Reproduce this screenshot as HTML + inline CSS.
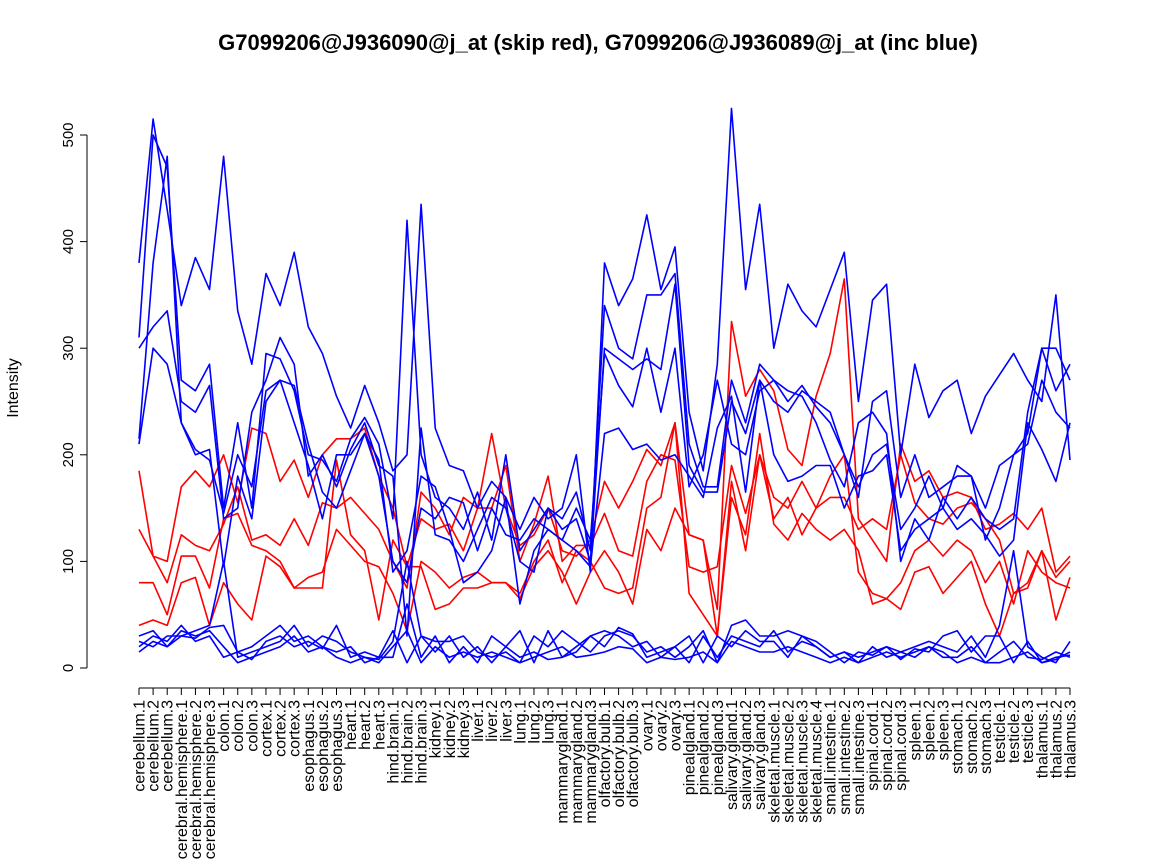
<!DOCTYPE html>
<html><head><meta charset="utf-8"><style>
body{margin:0;background:#fff;}
svg{display:block;font-family:"Liberation Sans",sans-serif;}
</style></head><body>
<svg id="s" width="1152" height="864" viewBox="0 0 1152 864" xmlns="http://www.w3.org/2000/svg">
<text x="598" y="50" text-anchor="middle" font-size="22" font-weight="bold">G7099206@J936090@j_at (skip red), G7099206@J936089@j_at (inc blue)</text>
<text transform="translate(18,388) rotate(-90)" text-anchor="middle" font-size="16">Intensity</text>
</svg>
<script>
const s=document.getElementById('s');const NS='http://www.w3.org/2000/svg';
function el(t,a,txt){const e=document.createElementNS(NS,t);for(const k in a)e.setAttribute(k,a[k]);if(txt!==undefined)e.textContent=txt;s.appendChild(e);return e;}
const Y=v=>668-v*1.066;
const labels=[];
const groups=["cerebellum","cerebral.hemisphere","colon","cortex","esophagus","heart","hind.brain","kidney","liver","lung","mammarygland","olfactory.bulb","ovary","pinealgland","salivary.gland","skeletal.muscle","small.intestine","spinal.cord","spleen","stomach","testicle","thalamus"];
groups.forEach(g=>{const n=g=="skeletal.muscle"?4:3;for(let i=1;i<=n;i++)labels.push(g+"."+i);});
const N=labels.length;
const X=i=>139+i*(1070-139)/(N-1);
el('line',{x1:87,y1:Y(0),x2:87,y2:Y(500),stroke:'#000'});
for(let v=0;v<=500;v+=100){el('line',{x1:80,y1:Y(v),x2:87,y2:Y(v),stroke:'#000'});
el('text',{transform:`translate(73,${Y(v)}) rotate(-90)`,'text-anchor':'middle','font-size':15},v);}
el('line',{x1:X(0),y1:688,x2:X(N-1),y2:688,stroke:'#000'});
labels.forEach((l,i)=>{el('line',{x1:X(i),y1:688,x2:X(i),y2:695,stroke:'#000'});
el('text',{transform:`translate(${X(i)+5.5},700) rotate(-90)`,'text-anchor':'end','font-size':16},l);});
const R=[
[185,105,100,170,185,170,200,155,225,220,175,195,160,200,215,215,225,180,150,95,140,130,135,110,150,220,150,115,125,150,110,105,120,175,150,175,205,190,230,125,120,55,325,255,280,260,205,190,255,295,365,140,120,100,210,175,185,160,165,160,130,135,145,130,150,90,105],
[130,105,80,125,115,110,135,170,120,125,115,140,115,155,150,160,145,130,100,75,165,150,125,160,150,150,190,100,135,180,100,115,115,145,110,105,175,200,195,95,90,95,190,145,200,160,150,175,150,160,160,130,140,130,200,155,140,135,150,155,140,120,70,75,110,85,100],
[80,80,50,105,105,75,140,145,115,110,100,75,85,90,130,115,100,95,70,35,100,90,75,85,90,80,80,70,100,120,80,110,100,75,70,75,150,160,230,70,50,30,160,125,220,135,120,145,130,120,130,110,60,65,55,90,95,70,85,100,60,30,70,80,110,45,85],
[40,45,40,80,85,40,80,60,45,105,95,75,75,75,195,125,110,45,120,95,95,55,60,75,75,80,80,65,95,110,90,60,90,110,90,60,130,110,150,125,120,30,175,110,200,140,160,125,150,180,200,90,70,65,80,110,120,105,120,110,80,100,60,110,90,80,75]];
const B=[
[380,515,430,340,385,355,480,335,285,370,340,390,320,295,255,225,265,230,185,200,435,225,190,185,150,175,160,130,160,140,150,200,90,380,340,365,425,355,395,240,185,285,525,355,435,300,360,335,320,355,390,250,345,360,200,285,235,260,270,220,255,275,295,270,250,350,195],
[310,500,470,270,260,285,150,230,150,295,290,260,200,195,175,215,235,210,140,420,200,160,150,130,165,120,200,110,130,150,140,165,110,340,300,290,350,350,370,210,170,170,270,230,285,270,250,265,245,230,200,160,250,260,160,200,160,170,180,180,150,190,200,220,300,260,285],
[300,320,335,250,240,265,140,150,240,270,310,285,180,200,170,205,230,190,180,30,225,125,120,100,130,160,150,100,90,150,130,140,100,300,290,280,290,280,360,190,165,165,250,220,270,250,240,260,250,240,200,170,200,210,130,150,180,150,190,180,120,150,200,210,270,240,225],
[210,300,285,230,200,205,95,180,140,250,270,265,210,165,150,185,220,180,100,80,150,140,160,155,110,150,125,120,140,130,120,110,95,220,225,205,210,195,200,180,160,225,255,165,270,200,175,180,190,190,150,180,185,200,110,130,140,150,130,140,125,105,120,230,205,175,230],
[215,380,480,230,205,195,145,200,170,260,270,230,190,140,200,200,220,195,90,110,180,170,130,80,90,110,160,60,110,130,120,150,120,295,265,245,300,240,300,170,200,270,210,200,260,270,260,255,230,195,170,230,240,220,100,140,120,160,140,160,140,130,140,240,300,300,270],
[30,35,20,30,35,40,100,10,15,20,25,40,20,30,25,15,10,8,25,100,30,25,25,30,15,10,15,5,30,20,35,25,15,30,35,30,15,20,10,20,35,5,40,45,30,30,35,30,20,10,15,10,15,20,15,20,25,20,15,30,10,40,110,20,10,5,25],
[15,25,20,35,30,35,20,5,10,15,20,30,15,20,10,5,10,5,20,35,5,20,10,15,10,15,10,5,10,15,20,10,12,15,20,18,5,10,8,10,15,5,25,20,15,15,20,15,10,5,10,5,10,15,10,15,20,15,5,10,5,5,10,15,5,8,15],
[25,20,30,30,28,38,40,15,8,25,30,20,25,18,40,10,15,10,35,5,30,15,30,10,20,5,20,35,5,35,10,15,30,35,30,20,25,10,20,30,5,30,20,35,25,25,10,30,25,15,5,15,12,20,8,18,15,30,35,15,30,30,5,25,5,10,12],
[20,30,25,40,25,30,10,15,20,30,40,25,30,20,15,20,5,10,10,60,10,30,5,20,5,30,20,10,15,8,10,20,30,20,38,32,10,15,20,5,30,10,30,25,20,35,15,25,20,10,15,5,20,10,15,10,20,10,10,20,5,15,25,10,8,15,10]];
function line(d,c){el('polyline',{points:d.slice(0,N).map((v,i)=>X(i).toFixed(1)+','+Y(v).toFixed(1)).join(' '),fill:'none',stroke:c,'stroke-width':1.6,'stroke-linejoin':'round'});}
R.forEach(d=>line(d,'#ff0000'));B.forEach(d=>line(d,'#0000ff'));
</script>
</body></html>
